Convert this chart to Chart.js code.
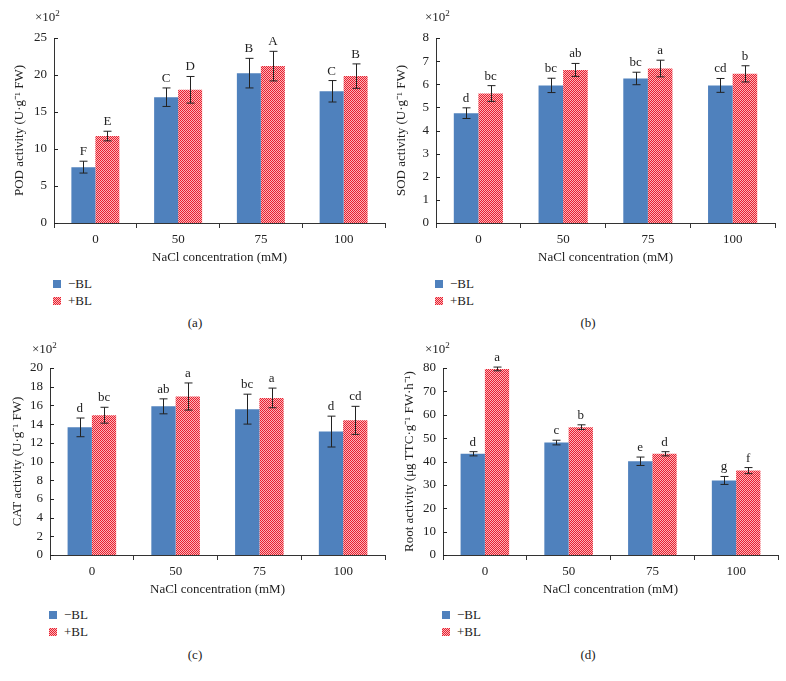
<!DOCTYPE html>
<html>
<head>
<meta charset="utf-8">
<script src="https://cdn.jsdelivr.net/npm/chart.js@4"></script>
<style>
body { margin: 0; background: #fff; }
#wrap { position: relative; width: 786px; height: 681px; font-family: "Liberation Serif", serif; color: #222; }
canvas { position: absolute; }
.txt { position: absolute; font-size: 13px; line-height: 16px; white-space: nowrap; }
.txt sup { font-size: 9px; vertical-align: 5px; line-height: 0; }
.sq { position: absolute; width: 8px; height: 8px; }
.blue { background: #4f81bd; }
.red { background: repeating-conic-gradient(#e8202f 0 25%, #fcb4b9 0 50%) 0 0 / 2px 2px; }
.cap { position: absolute; font-size: 13px; width: 40px; text-align: center; }
</style>
</head>
<body>
<div id="wrap"></div>
<script>
const concentrations = ["0", "50", "75", "100"];

// POD
const podMinus = [7.55, 17.0, 20.25, 17.8];
const podMinusErr = [0.8, 1.25, 2.0, 1.45];
const podPlus = [11.75, 18.0, 21.2, 19.85];
const podPlusErr = [0.65, 1.8, 2.0, 1.65];
const podMinusLetters = ["F", "C", "B", "C"];
const podPlusLetters = ["E", "D", "A", "B"];

// SOD
const sodMinus = [4.75, 5.95, 6.25, 5.95];
const sodMinusErr = [0.23, 0.31, 0.27, 0.3];
const sodPlus = [5.6, 6.62, 6.68, 6.45];
const sodPlusErr = [0.34, 0.28, 0.36, 0.35];
const sodMinusLetters = ["d", "bc", "bc", "cd"];
const sodPlusLetters = ["bc", "ab", "a", "b"];

// CAT
const catMinus = [13.65, 15.9, 15.6, 13.2];
const catMinusErr = [1.0, 0.8, 1.6, 1.65];
const catPlus = [14.95, 16.95, 16.8, 14.4];
const catPlusErr = [0.85, 1.45, 1.05, 1.5];
const catMinusLetters = ["d", "ab", "bc", "d"];
const catPlusLetters = ["bc", "a", "a", "cd"];

// Root activity
const rootMinus = [43.3, 48.1, 40.1, 31.9];
const rootMinusErr = [0.9, 1.0, 1.8, 1.7];
const rootPlus = [79.6, 54.7, 43.3, 36.1];
const rootPlusErr = [0.8, 1.0, 0.9, 1.3];
const rootMinusLetters = ["d", "c", "e", "g"];
const rootPlusLetters = ["a", "b", "d", "f"];

const yMaxes = [25, 8, 20, 80];
const ySteps = [5, 1, 2, 10];
const seriesNames = ["\u2212BL", "+BL"];
const xTitle = "NaCl concentration (mM)";

const panels = [
    { tag: "(a)", left: 0, top: 0, ax: [54, 385, 38, 223], tx: 12,
      title: "POD activity (U\u00b7g\u207b\u00b9 FW)",
      minus: podMinus, minusErr: podMinusErr, plus: podPlus, plusErr: podPlusErr,
      minusL: podMinusLetters, plusL: podPlusLetters },
    { tag: "(b)", left: 393, top: 0, ax: [436, 775, 38, 223], tx: 1,
      title: "SOD activity (U\u00b7g\u207b\u00b9 FW)",
      minus: sodMinus, minusErr: sodMinusErr, plus: sodPlus, plusErr: sodPlusErr,
      minusL: sodMinusLetters, plusL: sodPlusLetters },
    { tag: "(c)", left: 0, top: 332, ax: [50, 385, 368, 555], tx: 10,
      title: "CAT activity (U\u00b7g\u207b\u00b9 FW)",
      minus: catMinus, minusErr: catMinusErr, plus: catPlus, plusErr: catPlusErr,
      minusL: catMinusLetters, plusL: catPlusLetters },
    { tag: "(d)", left: 393, top: 332, ax: [443, 778, 368, 555], tx: 9,
      title: "Root activity (\u03bcg TTC\u00b7g\u207b\u00b9 FW\u00b7h\u207b\u00b9)",
      minus: rootMinus, minusErr: rootMinusErr, plus: rootPlus, plusErr: rootPlusErr,
      minusL: rootMinusLetters, plusL: rootPlusLetters }
];

function makePattern() {
    let c = document.createElement("canvas");
    c.width = 2; c.height = 2;
    let g = c.getContext("2d");
    g.fillStyle = "#fcb4b9";
    g.fillRect(0, 0, 2, 2);
    g.fillStyle = "#e8202f";
    g.fillRect(0, 0, 1, 1);
    g.fillRect(1, 1, 1, 1);
    return g.createPattern(c, "repeat");
}

const errorBars = {
    id: "errorBars",
    afterDatasetsDraw(chart) {
        let ctx = chart.ctx;
        let y = chart.scales.y;
        let area = chart.chartArea;
        ctx.save();
        ctx.strokeStyle = "#222";
        ctx.lineWidth = 1;
        // inward tick marks on the y axis
        y.ticks.forEach(t => {
            let py = Math.round(y.getPixelForValue(t.value)) + 0.5;
            ctx.beginPath();
            ctx.moveTo(area.left, py);
            ctx.lineTo(area.left + 4, py);
            ctx.stroke();
        });
        ctx.fillStyle = "#222";
        ctx.font = "13px 'Liberation Serif'";
        ctx.textAlign = "center";
        ctx.textBaseline = "alphabetic";
        chart.data.datasets.forEach((ds, i) => {
            chart.getDatasetMeta(i).data.forEach((bar, j) => {
                let hi = y.getPixelForValue(ds.data[j] + ds.errors[j]);
                let lo = y.getPixelForValue(ds.data[j] - ds.errors[j]);
                let x = Math.round(bar.x) + 0.5;
                ctx.beginPath();
                ctx.moveTo(x, hi); ctx.lineTo(x, lo);
                ctx.moveTo(x - 4, hi); ctx.lineTo(x + 4, hi);
                ctx.moveTo(x - 4, lo); ctx.lineTo(x + 4, lo);
                ctx.stroke();
                ctx.fillText(ds.letters[j], bar.x, hi - 6);
            });
        });
        ctx.restore();
    }
};

const wrap = document.getElementById("wrap");
const redPattern = makePattern();

panels.forEach((p, k) => {
    let W = 393, H = 270;
    let canvas = document.createElement("canvas");
    canvas.width = W; canvas.height = H;
    canvas.style.left = p.left + "px";
    canvas.style.top = p.top + "px";
    wrap.appendChild(canvas);

    let [axL, axR, axT, axB] = p.ax;
    let padL = p.tx;
    let xH = 40;

    new Chart(canvas, {
        type: "bar",
        data: {
            labels: concentrations,
            datasets: [
                { label: seriesNames[0], data: p.minus, errors: p.minusErr, letters: p.minusL,
                  backgroundColor: "#4f81bd", barPercentage: 1.0, categoryPercentage: 0.58 },
                { label: seriesNames[1], data: p.plus, errors: p.plusErr, letters: p.plusL,
                  backgroundColor: redPattern, barPercentage: 1.0, categoryPercentage: 0.58 }
            ]
        },
        options: {
            responsive: false,
            animation: false,
            devicePixelRatio: 1,
            layout: {
                padding: {
                    left: padL,
                    right: p.left + W - axR,
                    top: axT - p.top,
                    bottom: p.top + H - axB - xH
                }
            },
            plugins: { legend: { display: false }, tooltip: { enabled: false } },
            scales: {
                x: {
                    afterFit: s => { s.height = xH; },
                    grid: { display: true, drawOnChartArea: false, offset: true, tickLength: 5, color: "#333" },
                    border: { display: true, color: "#333" },
                    ticks: { color: "#222", padding: 4, font: { family: "Liberation Serif", size: 13 } },
                    title: { display: true, text: xTitle, color: "#222", padding: { top: 0, bottom: -2 },
                             font: { family: "Liberation Serif", size: 13 } }
                },
                y: {
                    min: 0,
                    max: yMaxes[k],
                    afterFit: s => { s.width = axL - p.left - padL; },
                    grid: { display: false, drawTicks: false },
                    border: { display: true, color: "#333" },
                    ticks: { stepSize: ySteps[k], color: "#222", padding: 7,
                             font: { family: "Liberation Serif", size: 13 } },
                    title: { display: true, text: p.title, color: "#222", padding: 0,
                             font: { family: "Liberation Serif", size: 13 } }
                }
            }
        },
        plugins: [errorBars]
    });

    // ×10² multiplier, legend and panel tag
    let mult = document.createElement("div");
    mult.className = "txt";
    mult.innerHTML = "\u00d710<sup>2</sup>";
    mult.style.left = (p.left + (k == 0 ? 35 : 32)) + "px";
    mult.style.top = (k < 2 ? 9 : 341) + "px";
    wrap.appendChild(mult);

    let legX = axL - 1;
    let legY = k < 2 ? 280 : 611;
    seriesNames.forEach((name, i) => {
        let sq = document.createElement("div");
        sq.className = "sq " + (i == 0 ? "blue" : "red");
        sq.style.left = legX + "px";
        sq.style.top = (legY + i * 17) + "px";
        wrap.appendChild(sq);
        let t = document.createElement("div");
        t.className = "txt";
        t.textContent = name;
        t.style.left = (legX + 15) + "px";
        t.style.top = (legY + i * 17 - 4) + "px";
        wrap.appendChild(t);
    });

    let cap = document.createElement("div");
    cap.className = "cap";
    cap.textContent = p.tag;
    cap.style.left = (p.left + 175) + "px";
    cap.style.top = (k < 2 ? 315 : 647) + "px";
    wrap.appendChild(cap);
});
</script>
</body>
</html>
